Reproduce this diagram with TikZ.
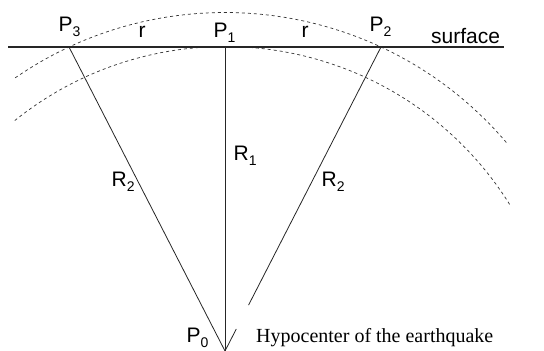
\documentclass[tikz,border=0pt]{standalone}
\usepackage{fontspec}
\setmainfont{Liberation Serif}
\newfontfamily\arialfont{Liberation Sans}
\usetikzlibrary{calc}
\newcommand\lblsub[2]{#1\raisebox{-5pt}{\fontsize{14}{14}\selectfont #2}}
\begin{document}
\begin{tikzpicture}[x=1pt,y=1pt,
  lbl/.style={inner sep=0pt, anchor=base west, font=\arialfont\fontsize{21}{24}\selectfont},
  ray/.style={line width=0.8pt, black!85},
  arcdash/.style={line width=0.7pt, black!80, dash pattern=on 3pt off 3pt}]
\useasboundingbox (0,0) rectangle (544,351);
% key points
\coordinate (P0) at (225,0);
\coordinate (P1) at (225,304);
\coordinate (P2) at (381,304);
\coordinate (P3) at (69,304);
\coordinate (C) at (225,-31);
\coordinate (SL) at (8,304);
\coordinate (SR) at (504,304);
\coordinate (gapA) at ($(P0)!0.0724!(P2)$);
\coordinate (gapB) at ($(P0)!0.151!(P2)$);
% dashed arcs
\draw[arcdash] ($(C)+(124.6:369.5pt)$) arc[start angle=124.6, end angle=40.1, radius=369.5pt];
\draw[arcdash] ($(C)+(128.8:335.5pt)$) arc[start angle=128.8, end angle=31.8, radius=335.5pt];
% surface
\draw[line width=1.3pt, black!85] (SL) -- (SR);
% rays
\draw[ray] (P0) -- (P1);
\draw[ray] (P0) -- (P3);
\draw[ray] (P0) -- (gapA);
\draw[ray] (gapB) -- (P2);
% labels
\node[lbl] (lP3) at (58.5,319) {\lblsub{P}{3}};
\node[lbl] (lr1) at (138.5,313) {r};
\node[lbl] (lP1) at (213.5,313) {\lblsub{P}{1}};
\node[lbl] (lr2) at (301.5,313) {r};
\node[lbl] (lP2) at (369.5,319) {\lblsub{P}{2}};
\node[lbl] (lsurf) at (431,307) {surface};
\node[lbl] (lR1) at (233.5,190) {\lblsub{R}{1}};
\node[lbl] (lR2a) at (111.5,164) {\lblsub{R}{2}};
\node[lbl] (lR2b) at (321.5,164) {\lblsub{R}{2}};
\node[lbl] (lP0) at (186.5,8) {\lblsub{P}{0}};
\node[inner sep=0pt, anchor=base west, font=\fontsize{20}{24}\selectfont] (hypo) at (256,9) {Hypocenter of the earthquake};
\end{tikzpicture}
\end{document}
